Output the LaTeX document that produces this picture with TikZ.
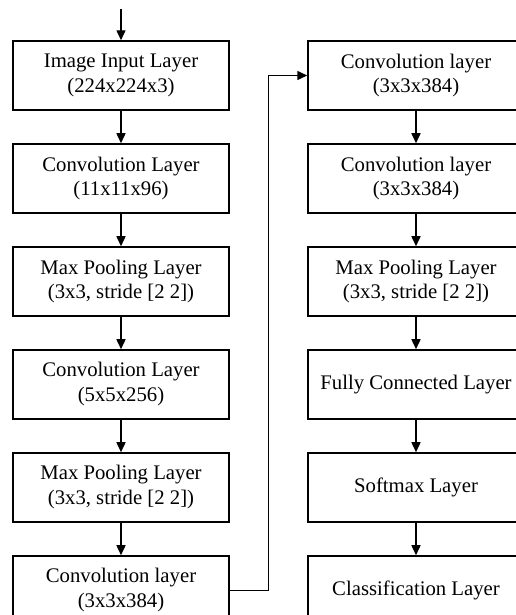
\documentclass[tikz,border=0pt]{standalone}
\usepackage{fontspec}
\setmainfont{Liberation Serif}
\usetikzlibrary{arrows.meta,positioning,calc}
\tikzset{
    layerbox/.style={draw=black,line width=0.85pt,
      minimum width=43.2mm,minimum height=13.8mm,inner sep=2pt,
      font=\fontsize{11.8}{14.2}\selectfont,align=center},
    flowarrow/.style={-{Triangle[length=2mm,width=1.8mm]},draw=black,
      line width=0.85pt}
}

\begin{document}
\begin{tikzpicture}[node distance=6.5mm]
  \useasboundingbox (0,0) rectangle (10.3,-12.3);
  % left column
  \node[layerbox] (l1) at (2.42,-1.51) {Image Input Layer\\(224x224x3)};
  \node[layerbox,below=of l1] (l2) {Convolution Layer\\(11x11x96)};
  \node[layerbox,below=of l2] (l3) {Max Pooling Layer\\(3x3, stride [2 2])};
  \node[layerbox,below=of l3] (l4) {Convolution Layer\\(5x5x256)};
  \node[layerbox,below=of l4] (l5) {Max Pooling Layer\\(3x3, stride [2 2])};
  \node[layerbox,below=of l5] (l6) {Convolution layer\\(3x3x384)};
  % right column
  \node[layerbox] (r1) at (8.32,-1.51) {Convolution layer\\(3x3x384)};
  \node[layerbox,below=of r1] (r2) {Convolution layer\\(3x3x384)};
  \node[layerbox,below=of r2] (r3) {Max Pooling Layer\\(3x3, stride [2 2])};
  \node[layerbox,below=of r3] (r4) {Fully Connected Layer};
  \node[layerbox,below=of r4] (r5) {Softmax Layer};
  \node[layerbox,below=of r5] (r6) {Classification Layer};
  % arrows
  \coordinate[above=6.2mm of l1.north] (in);
  \draw[flowarrow] (in) -- (l1);
  \foreach \a/\b in {l1/l2,l2/l3,l3/l4,l4/l5,l5/l6,r1/r2,r2/r3,r3/r4,r4/r5,r5/r6}
    \draw[flowarrow] (\a) -- (\b);
  \coordinate (bend) at ($(l6.east)!.5!(r1.west)$);
  \draw[flowarrow] (l6.east) -| (bend) |- (r1.west);
\end{tikzpicture}
\end{document}
